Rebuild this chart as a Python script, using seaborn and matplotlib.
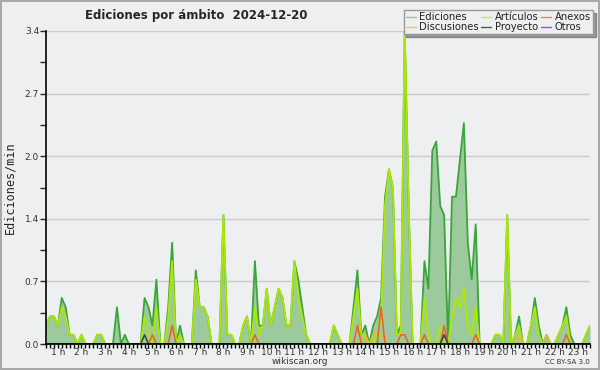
import pandas as pd
import seaborn as sns
import matplotlib.pyplot as plt
import numpy as np
from matplotlib.lines import Line2D
from matplotlib.ticker import FixedLocator, FixedFormatter


# Ediciones/min, one sample every 10 minutes, 00:00 -> 23:00
ediciones = [
    0.2, 0.3, 0.3, 0.2, 0.5, 0.4,   # 0 h
    0.1, 0.1, 0.0, 0.1, 0.0, 0.0,   # 1 h
    0.0, 0.1, 0.1, 0.0, 0.0, 0.0,   # 2 h
    0.4, 0.0, 0.1, 0.0, 0.0, 0.0,   # 3 h
    0.0, 0.5, 0.4, 0.2, 0.7, 0.0,   # 4 h
    0.0, 0.4, 1.1, 0.0, 0.2, 0.0,   # 5 h
    0.0, 0.0, 0.8, 0.4, 0.4, 0.3,   # 6 h
    0.0, 0.0, 0.0, 1.4, 0.1, 0.1,   # 7 h
    0.0, 0.0, 0.2, 0.3, 0.0, 0.9,   # 8 h
    0.2, 0.2, 0.6, 0.2, 0.4, 0.6,   # 9 h
    0.5, 0.2, 0.2, 0.9, 0.7, 0.4,   # 10 h
    0.1, 0.0, 0.0, 0.0, 0.0, 0.0,   # 11 h
    0.0, 0.2, 0.1, 0.0, 0.0, 0.0,   # 12 h
    0.4, 0.8, 0.1, 0.2, 0.0, 0.2,   # 13 h
    0.3, 0.5, 1.6, 1.9, 1.7, 0.1,   # 14 h
    0.2, 3.4, 1.5, 0.0, 0.0, 0.0,   # 15 h
    0.9, 0.6, 2.1, 2.2, 1.5, 1.4,   # 16 h
    0.0, 1.6, 1.6, 2.0, 2.4, 1.1,   # 17 h
    0.7, 1.3, 0.0, 0.0, 0.0, 0.0,   # 18 h
    0.1, 0.1, 0.0, 1.4, 0.0, 0.1,   # 19 h
    0.3, 0.0, 0.0, 0.2, 0.5, 0.2,   # 20 h
    0.0, 0.1, 0.0, 0.0, 0.1, 0.2,   # 21 h
    0.4, 0.1, 0.0, 0.0, 0.0, 0.1,   # 22 h
    0.2,                            # 23 h
]

articulos = [
    0.2, 0.3, 0.3, 0.2, 0.4, 0.3,
    0.1, 0.1, 0.0, 0.1, 0.0, 0.0,
    0.0, 0.1, 0.1, 0.0, 0.0, 0.0,
    0.0, 0.0, 0.0, 0.0, 0.0, 0.0,
    0.0, 0.3, 0.1, 0.0, 0.4, 0.0,
    0.0, 0.3, 0.9, 0.0, 0.1, 0.0,
    0.0, 0.0, 0.7, 0.4, 0.4, 0.3,
    0.0, 0.0, 0.0, 1.4, 0.1, 0.1,
    0.0, 0.0, 0.2, 0.3, 0.0, 0.4,
    0.1, 0.2, 0.6, 0.2, 0.4, 0.6,
    0.5, 0.2, 0.2, 0.9, 0.5, 0.3,
    0.1, 0.0, 0.0, 0.0, 0.0, 0.0,
    0.0, 0.2, 0.1, 0.0, 0.0, 0.0,
    0.3, 0.6, 0.1, 0.1, 0.0, 0.0,
    0.1, 0.3, 1.5, 1.9, 1.7, 0.1,
    0.1, 3.4, 1.5, 0.0, 0.0, 0.0,
    0.5, 0.1, 0.0, 0.0, 0.2, 0.0,
    0.0, 0.3, 0.5, 0.4, 0.6, 0.2,
    0.1, 0.4, 0.0, 0.0, 0.0, 0.0,
    0.1, 0.1, 0.0, 1.4, 0.0, 0.1,
    0.2, 0.0, 0.0, 0.2, 0.4, 0.1,
    0.0, 0.0, 0.0, 0.0, 0.1, 0.2,
    0.3, 0.0, 0.0, 0.0, 0.0, 0.1,
    0.2,
]

# almost empty series: time of the sample and its value (0 elsewhere)
anexos_horas = ['04:30', '05:20', '08:50', '13:10', '14:10', '15:00',
                '15:10', '16:00', '16:50', '18:10', '22:00']
anexos_vals = [0.1, 0.2, 0.1, 0.2, 0.4, 0.1, 0.1, 0.1, 0.2, 0.1, 0.1]

discusiones_horas = ['13:30', '13:50', '14:00', '14:10', '20:00', '21:10']
discusiones_vals = [0.1, 0.1, 0.1, 0.1, 0.1, 0.1]

proyecto_horas = ['04:10', '16:50']
proyecto_vals = [0.1, 0.1]

otros_horas = []
otros_vals = []

hour_labels = [f'{h} h' for h in range(1, 24)]


def expand(horas, vals, n):
    s = np.zeros(n)
    for h, v in zip(horas, vals):
        hh, mm = h.split(':')
        s[(int(hh) * 60 + int(mm)) // 10] = v
    return s


n = len(ediciones)
df = pd.DataFrame({
    'hora': np.arange(n) / 6,
    'Ediciones': ediciones,
    'Artículos': articulos,
    'Anexos': expand(anexos_horas, anexos_vals, n),
    'Discusiones': expand(discusiones_horas, discusiones_vals, n),
    'Proyecto': expand(proyecto_horas, proyecto_vals, n),
    'Otros': expand(otros_horas, otros_vals, n),
})

bg = '#eeeff1'
sns.set_style('white', rc={'axes.facecolor': bg, 'figure.facecolor': bg})
plt.rcParams['font.family'] = ['DejaVu Sans']

fig = plt.figure(figsize=(6, 3.7), dpi=100, linewidth=1.5, edgecolor='#a8a8a8')
ax = fig.add_axes([46 / 600, 26 / 370, 544 / 600, 313 / 370])

ax.fill_between(df['hora'], df['Ediciones'], color='#9dca9d', lw=0, zorder=1)
sns.lineplot(data=df, x='hora', y='Ediciones', color='#3aa53a', lw=1.3, ax=ax, zorder=3)
sns.lineplot(data=df, x='hora', y='Artículos', color='#aee800', lw=1.3, ax=ax, zorder=4)
sns.lineplot(data=df, x='hora', y='Discusiones', color='#e8c020', lw=1.1, ax=ax, zorder=5)
sns.lineplot(data=df, x='hora', y='Anexos', color='#f06020', lw=1.1, ax=ax, zorder=5)
sns.lineplot(data=df, x='hora', y='Proyecto', color='#404040', lw=1.1, ax=ax, zorder=5)

ax.set_xlim(0, (n - 1) / 6)
ax.set_ylim(0, 3.4)
ax.set_xlabel('')
ax.set_ylabel('Ediciones/min', family='DejaVu Sans Mono', fontsize=8.5, labelpad=6)

# y axis: 5 steps of 3.4/5, one decimal
yt = np.linspace(0, 3.4, 6)
ax.yaxis.set_major_locator(FixedLocator(yt))
ax.yaxis.set_major_formatter(FixedFormatter([f'{v:.1f}' for v in yt]))
ax.yaxis.set_minor_locator(FixedLocator((yt[:-1] + yt[1:]) / 2))
ax.grid(axis='y', color='#cbcbcb', lw=1, zorder=0)
ax.set_axisbelow(True)

# x axis: a tick every 10 min, label "k h" in the middle of each hour
xt = df['hora'].values
ax.xaxis.set_major_locator(FixedLocator(xt))
lab = [''] * n
for k, t in enumerate(hour_labels):
    lab[6 * k + 3] = t
ax.xaxis.set_major_formatter(FixedFormatter(lab))

ax.tick_params(axis='x', which='major', direction='out', length=3, width=1, pad=0,
               labelsize=6.5, colors='black', labelcolor='#333333', bottom=True)
ax.tick_params(axis='y', which='both', direction='out', length=4, width=1, pad=1,
               labelsize=6.5, labelcolor='#333333', left=True)

for side in ['top', 'right']:
    ax.spines[side].set_visible(False)
for side in ['left', 'bottom']:
    ax.spines[side].set_color('black')
    ax.spines[side].set_linewidth(1.2)
    ax.spines[side].set_zorder(6)

handles = [
    Line2D([], [], color='#8ccf8c', lw=1),
    Line2D([], [], color='#f2c84a', lw=1),
    Line2D([], [], color='#c4ee3c', lw=1),
    Line2D([], [], color='#555555', lw=1),
    Line2D([], [], color='#f58050', lw=1),
    Line2D([], [], color='#9a4ee8', lw=1),
]
names = ['Ediciones', 'Discusiones', 'Artículos', 'Proyecto', 'Anexos', 'Otros']
leg = fig.legend(handles, names, ncol=3, loc='upper right', bbox_to_anchor=(593 / 600, 1 - 10 / 370),
                 fontsize=7.2, frameon=True, fancybox=False, shadow=True, handlelength=1.0,
                 handletextpad=0.4, columnspacing=0.2, labelspacing=0.0, borderpad=0.2,
                 borderaxespad=0)
leg.get_frame().set_edgecolor('#999999')
leg.get_frame().set_linewidth(1)
for t in leg.get_texts():
    t.set_color('#222222')

fig.text(85 / 600, 1 - 15 / 370, 'Ediciones por ámbito  2024-12-20', fontsize=8.5,
         fontweight='bold', ha='left', va='center')
fig.text(300 / 600, 1 - 362 / 370, 'wikiscan.org', fontsize=6.5, color='#333333',
         ha='center', va='center')
fig.text(590 / 600, 1 - 362 / 370, 'CC BY-SA 3.0', fontsize=5, color='#333333',
         ha='right', va='center')

fig.savefig('out.png', dpi=100, facecolor=bg, edgecolor='#a8a8a8')
